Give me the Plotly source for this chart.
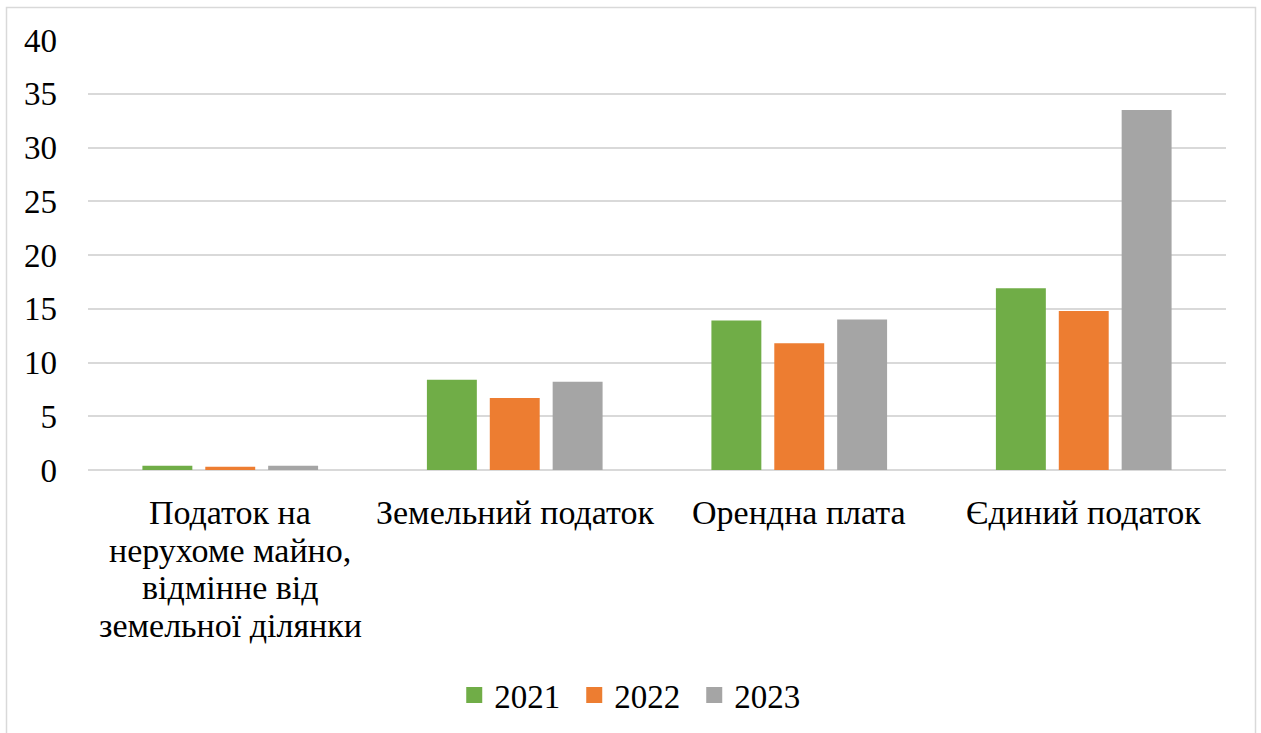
import plotly.graph_objects as go

# Categories and their axis label lines
categories = [
    "Податок на нерухоме майно, відмінне від земельної ділянки",
    "Земельний податок",
    "Орендна плата",
    "Єдиний податок",
]
category_label_lines = [
    ["Податок на", "нерухоме майно,", "відмінне від", "земельної ділянки"],
    ["Земельний податок"],
    ["Орендна плата"],
    ["Єдиний податок"],
]
years = ["2021", "2022", "2023"]
values_2021 = [0.4, 8.4, 13.9, 16.9]
values_2022 = [0.3, 6.7, 11.8, 14.8]
values_2023 = [0.4, 8.2, 14.0, 33.5]
colors = ["#70AD47", "#ED7D31", "#A5A5A5"]
y_ticks = [0, 5, 10, 15, 20, 25, 30, 35, 40]

FONT = "Liberation Serif, Times New Roman, serif"
W, H = 1261, 733
ML, MR, MT, MB = 88, 35, 40, 262

pw, ph = W - ML - MR, H - MT - MB
def px_x(p):
    return (p - ML) / pw
def px_y(p):
    return (H - MB - p) / ph

fig = go.Figure()
for name, vals, col in zip(years, [values_2021, values_2022, values_2023], colors):
    fig.add_trace(go.Bar(
        x=categories, y=vals, name=name,
        marker=dict(color=col, line=dict(width=0)),
        showlegend=False,
    ))
    # legend entry with a larger square swatch
    fig.add_trace(go.Scatter(
        x=[None], y=[None], name=name, mode="markers",
        marker=dict(symbol="square", size=16, color=col),
        showlegend=True,
    ))

# Category labels below the axis, one line at a time for tighter line spacing
LINE0_CENTER = 514
LINE_PITCH = 37.5
for cat, lines in zip(categories, category_label_lines):
    for i, line in enumerate(lines):
        fig.add_annotation(
            x=cat, xref="x", y=px_y(LINE0_CENTER + i * LINE_PITCH), yref="paper",
            text=line, showarrow=False, xanchor="center", yanchor="middle",
            font=dict(family=FONT, size=34, color="#000000"),
        )

# Outer chart border (light gray frame)
fig.add_shape(
    type="rect", xref="paper", yref="paper",
    x0=px_x(6.5), x1=px_x(1255.5), y0=px_y(760), y1=px_y(7.5),
    line=dict(color="#d9d9d9", width=1.5), fillcolor="rgba(0,0,0,0)",
    layer="below",
)

fig.update_layout(
    width=W, height=H,
    margin=dict(l=ML, r=MR, t=MT, b=MB, pad=0),
    paper_bgcolor="white", plot_bgcolor="white",
    font=dict(family=FONT, size=33, color="#000000"),
    barmode="group", bargap=0.337, bargroupgap=0.206,
    legend=dict(
        orientation="h", x=0.48, xanchor="center", y=px_y(695), yanchor="middle",
        font=dict(family=FONT, size=33, color="#000000"),
        itemclick=False, bgcolor="rgba(0,0,0,0)", entrywidth=75,
    ),
    showlegend=True,
)
fig.update_xaxes(
    showgrid=False, showline=False, ticks="", zeroline=False,
    showticklabels=False,
)
fig.update_yaxes(
    range=[0, 40], tickvals=y_ticks, ticktext=[str(t) for t in y_ticks],
    showgrid=True, gridcolor="#d9d9d9", gridwidth=2,
    zeroline=True, zerolinecolor="#d9d9d9", zerolinewidth=2,
    showline=False, ticks="", ticklabelstandoff=30,
    tickfont=dict(family=FONT, size=33, color="#000000"),
)

fig.write_html("out.html")
